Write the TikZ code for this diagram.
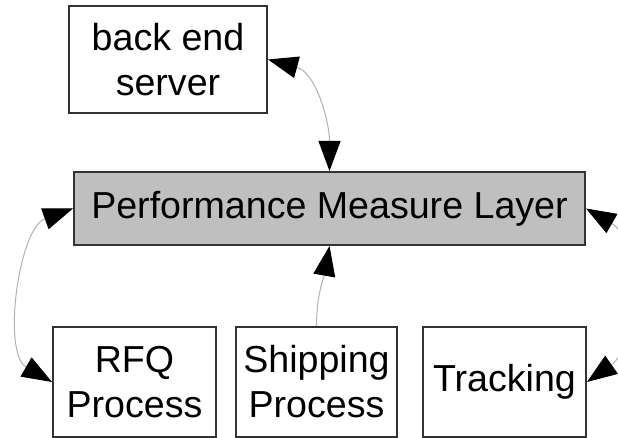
\documentclass[tikz,border=0pt]{standalone}
\usepackage{fontspec}
\setmainfont{Liberation Sans}
\usetikzlibrary{arrows.meta}
\tikzset{>={Triangle[width=11pt,length=15pt,color=black]}}

\begin{document}
\begin{tikzpicture}[x=0.5pt,y=-0.5pt,
  box/.style={draw=black!80, line width=1pt, inner sep=0pt, align=center,
    font=\fontsize{18.8}{22.5}\selectfont},
  link/.style={draw=black!30, line width=0.5pt}]

  \useasboundingbox (0,0) rectangle (618,438);
  \clip (0,0) rectangle (618,438);

  \node[box, minimum width=99pt, minimum height=53.5pt] (server) at (168,59.5) {back end\\server};
  \node[box, fill=black!25, minimum width=255.5pt, minimum height=36.5pt] (layer) at (329.5,208.5) {Performance Measure Layer};

  \node[box, minimum width=81.5pt, minimum height=55pt] (rfq) at (134.5,382) {RFQ\\Process};
  \node[box, minimum width=80.5pt, minimum height=55pt] (shipping) at (316.5,382) {Shipping\\Process};
  \node[box, minimum width=81.5pt, minimum height=55pt] (tracking) at (504.5,382) {Tracking};

  \draw[link, <->] (server.east) to[out=-15, in=90] (layer.north);
  \draw[link, <->] (layer.west) to[out=200, in=150, looseness=0.85] (rfq.west);
  \draw[link, <->] (layer.east) to[out=-30, in=35, looseness=0.9] (tracking.east);
  \draw[link, ->] (shipping.north) to[out=90, in=-100] (layer.south);
\end{tikzpicture}
\end{document}
